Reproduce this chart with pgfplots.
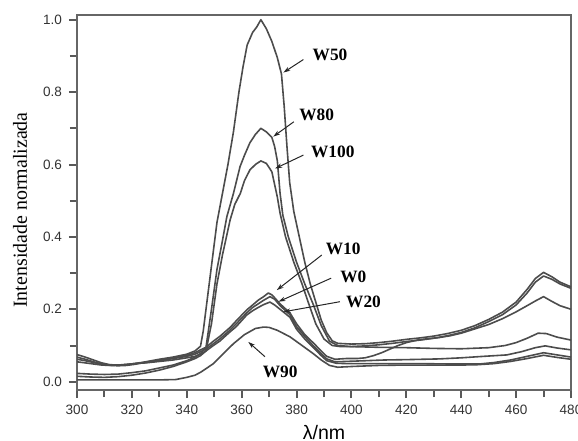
\documentclass[border=0pt]{standalone}
\usepackage{fontspec}
\setmainfont{Liberation Serif}
\newfontfamily\arialfont{Liberation Sans}
\usepackage{pgfplots}
\pgfplotsset{compat=1.18}
\usetikzlibrary{arrows.meta}

\definecolor{curve}{gray}{0.30}
\definecolor{frame}{gray}{0.40}

\pgfplotsset{spec/.style={draw=curve, line width=0.8bp, mark=none, line join=round}}

\begin{document}
\begin{tikzpicture}
\begin{axis}[
    scale only axis,
    width=247bp, height=187.5bp,
    xmin=300, xmax=480,
    ymin=-0.0229, ymax=1.013,
    xtick={300,320,...,480},
    ytick={0,0.2,...,1.0},
    minor xtick={300,310,...,480},
    minor ytick={0,0.1,...,1.0},
    tick align=outside,
    xtick pos=left, ytick pos=left,
    major tick length=4bp,
    minor tick length=3.5bp,
    axis line style={draw=frame, line width=1.1bp},
    tick style={draw=black!65, line width=1bp},
    tick label style={font=\arialfont\fontsize{6.8}{8}\selectfont, text=black!80},
    /pgf/number format/assume math mode=true,
    yticklabel style={/pgf/number format/.cd, fixed, fixed zerofill, precision=1},
    xticklabel style={/pgf/number format/1000 sep={}},
]
% W50
\addplot[spec] coordinates {(300,0.075)(303,0.068)(306,0.06)(309,0.052)(312,0.047)(315,0.046)(318,0.047)(321,0.05)(325,0.055)(330,0.062)(335,0.068)(340,0.076)(343,0.085)(345,0.098)(346,0.14)(347,0.2)(349,0.32)(351,0.44)(353,0.52)(355,0.6)(357,0.69)(359,0.8)(360.5,0.87)(362,0.93)(364,0.965)(365.5,0.98)(367,1.0)(369,0.975)(371,0.94)(373,0.895)(374.5,0.85)(375.5,0.76)(376.5,0.65)(377.5,0.55)(379,0.47)(381,0.40)(383,0.33)(385,0.27)(387,0.22)(389,0.17)(391,0.135)(393,0.113)(395,0.106)(400,0.104)(405,0.105)(410,0.108)(415,0.112)(420,0.117)(425,0.121)(430,0.126)(435,0.133)(440,0.142)(445,0.155)(450,0.172)(455,0.192)(460,0.22)(464,0.255)(467,0.285)(470,0.302)(473,0.29)(476,0.275)(480,0.262)};
% W80
\addplot[spec] coordinates {(300,0.023)(305,0.021)(310,0.02)(315,0.021)(320,0.025)(325,0.03)(330,0.038)(335,0.046)(340,0.058)(343,0.068)(345,0.078)(347,0.095)(349,0.2)(351,0.31)(353,0.39)(354.6,0.456)(357,0.52)(359.4,0.594)(361,0.625)(363,0.66)(365,0.683)(367,0.70)(369,0.69)(371,0.675)(372,0.65)(373,0.61)(374,0.52)(375,0.46)(377,0.40)(380,0.33)(383,0.27)(386,0.215)(389,0.155)(392,0.112)(395,0.1)(400,0.097)(410,0.095)(420,0.094)(430,0.092)(440,0.091)(450,0.094)(456,0.1)(460,0.108)(464,0.12)(468,0.134)(471,0.133)(475,0.123)(480,0.115)};
% W100
\addplot[spec] coordinates {(300,0.015)(305,0.013)(310,0.012)(315,0.014)(320,0.018)(325,0.024)(330,0.032)(335,0.042)(340,0.055)(343,0.064)(345,0.072)(347,0.085)(349,0.16)(351,0.27)(353,0.35)(355.8,0.447)(357.5,0.49)(359.5,0.52)(361,0.555)(363,0.585)(365,0.6)(367,0.61)(369,0.603)(371,0.58)(373,0.51)(374,0.465)(376,0.40)(379,0.33)(382,0.27)(384,0.225)(387,0.16)(390,0.118)(393,0.1)(396,0.097)(400,0.097)(405,0.099)(410,0.102)(415,0.106)(420,0.111)(425,0.115)(430,0.12)(435,0.127)(440,0.136)(445,0.149)(450,0.166)(455,0.185)(460,0.212)(464,0.245)(467,0.275)(470,0.292)(473,0.283)(476,0.27)(480,0.258)};
% W10
\addplot[spec] coordinates {(300,0.068)(303,0.062)(306,0.055)(309,0.049)(312,0.045)(315,0.044)(318,0.045)(321,0.048)(325,0.054)(330,0.06)(335,0.066)(340,0.073)(343,0.08)(345,0.088)(347,0.095)(349.7,0.112)(352,0.125)(355.8,0.15)(358,0.168)(361.8,0.198)(364,0.212)(366,0.225)(368,0.235)(369.7,0.245)(371,0.24)(372,0.232)(374,0.215)(377.6,0.19)(380,0.16)(383,0.13)(386,0.108)(389,0.085)(391,0.07)(394,0.062)(398,0.064)(402,0.064)(405,0.066)(408,0.072)(411,0.08)(414,0.09)(417,0.1)(420,0.108)(424,0.115)(428,0.119)(432,0.122)(436,0.127)(440,0.134)(445,0.146)(450,0.158)(455,0.174)(460,0.193)(464,0.21)(467,0.223)(470,0.235)(473,0.222)(476,0.21)(480,0.2)};
% W0
\addplot[spec] coordinates {(300,0.062)(303,0.058)(306,0.053)(309,0.048)(312,0.046)(315,0.046)(318,0.048)(321,0.05)(325,0.053)(330,0.058)(335,0.064)(340,0.07)(343,0.076)(345,0.083)(347,0.09)(349.7,0.105)(352,0.118)(355.8,0.143)(358,0.16)(361.8,0.19)(364,0.205)(366,0.215)(368,0.225)(370.3,0.235)(372,0.228)(374,0.21)(377.6,0.185)(380,0.152)(383,0.125)(386,0.1)(389,0.077)(391,0.063)(394,0.055)(398,0.056)(405,0.058)(412,0.06)(420,0.061)(432,0.063)(440,0.066)(448,0.07)(456.6,0.074)(462,0.083)(467,0.094)(470.6,0.099)(475,0.093)(480,0.088)};
% W20
\addplot[spec] coordinates {(300,0.055)(303,0.052)(306,0.049)(309,0.046)(312,0.045)(315,0.046)(318,0.047)(321,0.05)(325,0.052)(330,0.056)(335,0.06)(340,0.066)(343,0.07)(345,0.076)(347,0.085)(349.7,0.1)(352,0.112)(355.8,0.138)(358,0.152)(361.8,0.184)(364,0.196)(366,0.205)(368,0.213)(370.3,0.22)(372,0.212)(374,0.2)(377.6,0.178)(380,0.145)(383,0.118)(386,0.095)(389,0.072)(391,0.058)(394.5,0.051)(398,0.05)(405,0.05)(415,0.05)(425,0.05)(435,0.049)(446.7,0.049)(452,0.053)(458,0.06)(464,0.07)(470,0.08)(475,0.074)(480,0.068)};
% W90
\addplot[spec] coordinates {(300,0.005)(310,0.005)(320,0.005)(330,0.005)(336,0.006)(340,0.012)(343,0.018)(345,0.026)(347,0.036)(349.7,0.05)(353,0.075)(357,0.105)(361,0.13)(365,0.147)(368,0.151)(370,0.15)(373,0.142)(377.6,0.124)(382,0.1)(386,0.078)(389,0.06)(392,0.045)(395,0.04)(400,0.042)(410,0.045)(420,0.046)(430,0.046)(440,0.046)(446,0.047)(452,0.05)(458,0.056)(464,0.064)(470,0.073)(475,0.067)(480,0.062)};

% curve labels with pointers
\begin{scope}[every node/.style={font=\bfseries\fontsize{8.7}{10}\selectfont, inner sep=0pt},
              ptr/.style={draw=black!85, line width=0.5bp, -{Stealth[length=3.5bp,width=2.2bp]}}]
\node at (axis cs:392.2,0.902) {W50};
\draw[ptr] (axis cs:382.5,0.89) -- (axis cs:375.2,0.854);
\node at (axis cs:387.3,0.737) {W80};
\draw[ptr] (axis cs:379,0.718) -- (axis cs:371.5,0.677);
\node at (axis cs:393.2,0.635) {W100};
\draw[ptr] (axis cs:382.5,0.626) -- (axis cs:372.2,0.589);
\node at (axis cs:397,0.368) {W10};
\draw[ptr] (axis cs:389.2,0.35) -- (axis cs:372.8,0.253);
\node at (axis cs:400.7,0.29) {W0};
\draw[ptr] (axis cs:392.6,0.286) -- (axis cs:373.4,0.221);
\node at (axis cs:404.4,0.221) {W20};
\draw[ptr] (axis cs:395.8,0.221) -- (axis cs:375.2,0.193);
\node at (axis cs:374,0.028) {W90};
\draw[ptr] (axis cs:368.5,0.069) -- (axis cs:362.4,0.11);
\end{scope}
\end{axis}
\node[rotate=90, font=\fontsize{10}{12}\selectfont] at ([xshift=-28.5bp,yshift=-3.75bp]current axis.west) {Intensidade normalizada};
\node[font=\arialfont\fontsize{9.8}{11}\selectfont] at ([yshift=-21.5bp]current axis.south) {λ/nm};
\pgfresetboundingbox
\path ([shift={(-38.5bp,-25.5bp)}]current axis.south west) rectangle ([shift={(3.5bp,7.5bp)}]current axis.north east);
\end{tikzpicture}
\end{document}
